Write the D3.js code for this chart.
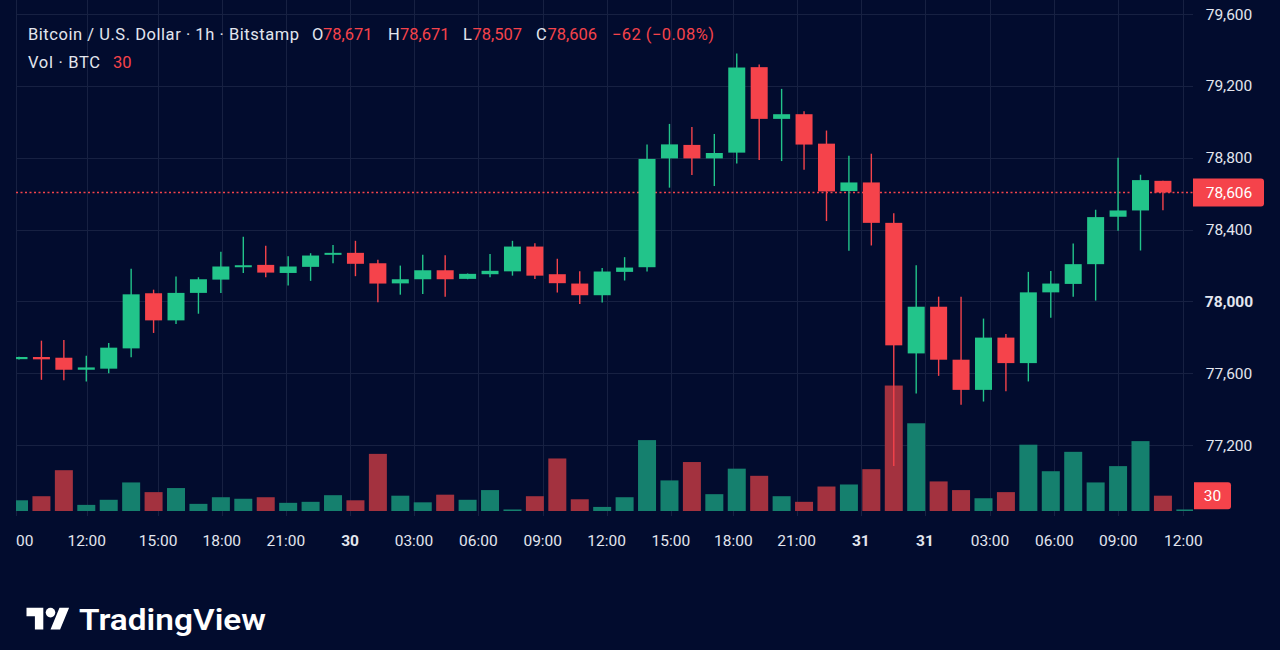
<!DOCTYPE html>
<html>
<head>
<meta charset="utf-8">
<script src="https://cdn.jsdelivr.net/npm/d3@7/dist/d3.min.js"></script>
<style>
  html, body { margin: 0; padding: 0; background: #020c2e; }
  svg { display: block; }
  text { font-family: Roboto, "Noto Sans", sans-serif; }
</style>
</head>
<body>
<svg id="chart" width="1280" height="650"></svg>
<script>
// ---------- DATA ----------
const opens  = [77678,77690,77686,77619,77625,77738,78045,77894,78047,78121,78190,78203,78158,78192,78259,78270,78212,78100,78123,78173,78125,78151,78167,78305,78151,78099,78034,78164,78190,78796,78871,78796,78828,79304,79016,79042,78878,78614,78662,78437,77710,77970,77675,77507,77798,77656,78050,78097,78207,78471,78506,78671];
const highs  = [77692,77781,77785,77697,77768,78181,78065,78138,78134,78276,78359,78309,78251,78268,78313,78337,78231,78199,78259,78257,78155,78264,78337,78324,78237,78168,78186,78246,78874,78988,78971,78932,79380,79319,79183,79059,78951,78811,78822,78491,78201,78026,78026,77904,77818,78164,78169,78322,78510,78800,78705,78671];
const lows   = [77676,77563,77560,77554,77599,77688,77824,77874,77931,78047,78158,78134,78088,78114,78212,78140,77995,78037,78041,78026,78123,78134,78143,78125,78049,77985,77993,78116,78166,78633,78703,78642,78767,78787,78781,78733,78447,78281,78311,77083,77487,77585,77424,77442,77500,77554,77909,78026,78004,78393,78283,78507];
const closes = [77690,77677,77619,77632,77742,78039,77894,78047,78123,78194,78201,78160,78194,78255,78270,78209,78099,78123,78173,78123,78153,78170,78305,78143,78101,78034,78166,78188,78793,78874,78796,78826,79302,79016,79042,78873,78612,78662,78437,77755,77970,77675,77507,77798,77656,78050,78099,78207,78469,78506,78675,78606];
const volumes = [21,29,80,12,22,56,37,45,14,27,24,27,16,18,31,21,112,30,17,32,22,41,3,29,103,23,8,27,139,60,96,33,83,69,29,18,48,52,82,246,172,58,41,25,37,130,78,116,56,88,137,30,3];

const priceTicks = [77200,77600,78000,78400,78800,79200,79600];
const boldPriceTicks = [78000];
// tick positions in candle-hour units (relative to first candle)
const timeTickPos = [-0.13,3.02,6.20,9.04,11.90,14.76,17.61,20.48,23.35,26.20,29.06,31.85,34.67,37.53,40.39,43.29,46.16,49.01,51.91];
const timeTickLabels = ["00","12:00","15:00","18:00","21:00","30","03:00","06:00","09:00","12:00","15:00","18:00","21:00","31","31","03:00","06:00","09:00","12:00"];
const boldTimeLabels = ["30","31"];

const lastPrice = 78606;
const lastVolume = 30;
const legendTitle = "Bitcoin / U.S. Dollar · 1h · Bitstamp";
const legendOHLC = [["O","78,671"],["H","78,671"],["L","78,507"],["C","78,606"]];
const legendChange = "−62 (−0.08%)";
const volLegend = "Vol · BTC";

// ---------- STYLE ----------
const BG = "#020c2e", GRID = "#172142", UP = "#22c48a", DOWN = "#f5434b";
const VUP = "#15806e", VDOWN = "#a3323f", TXT = "#e3e6ee";

const svg = d3.select("#chart");
const plot = {left: 16, right: 1193, top: 0, bottom: 516};

svg.append("rect").attr("width", 1280).attr("height", 650).attr("fill", BG);

const n = opens.length;
const x = d3.scaleLinear().domain([0, 52]).range([19, 19 + 22.43 * 52]);
const y = d3.scaleLinear().domain([77200, 79600]).range([445, 14]);
const v = d3.scaleLinear().domain([0, 250]).range([511, 383.5]);

svg.append("clipPath").attr("id", "plotclip")
  .append("rect").attr("x", plot.left).attr("y", plot.top)
  .attr("width", plot.right - plot.left).attr("height", plot.bottom - plot.top);

const g = svg.append("g").attr("clip-path", "url(#plotclip)");

// grid
g.selectAll(".hgrid").data(priceTicks).enter().append("line")
  .attr("x1", plot.left).attr("x2", plot.right)
  .attr("y1", d => Math.round(y(d)) + 0.5).attr("y2", d => Math.round(y(d)) + 0.5)
  .attr("stroke", GRID).attr("stroke-width", 1);
g.selectAll(".vgrid").data(timeTickPos).enter().append("line")
  .attr("x1", d => Math.round(x(d)) + 0.5).attr("x2", d => Math.round(x(d)) + 0.5)
  .attr("y1", plot.top).attr("y2", plot.bottom)
  .attr("stroke", GRID).attr("stroke-width", 1);

// volume
const isUp = i => i >= n ? true : closes[i] >= opens[i];
const bw = 18;
g.selectAll(".vol").data(volumes).enter().append("rect")
  .attr("x", (d, i) => x(i) - bw / 2)
  .attr("y", d => v(d))
  .attr("width", bw)
  .attr("height", d => Math.max(1, v(0) - v(d)))
  .attr("fill", (d, i) => isUp(i) ? VUP : VDOWN);

// last price dotted line
g.append("line")
  .attr("x1", plot.left).attr("x2", plot.right)
  .attr("y1", y(lastPrice)).attr("y2", y(lastPrice))
  .attr("stroke", DOWN).attr("stroke-width", 1.5).attr("stroke-dasharray", "2,2.5");

// candles
const idx = d3.range(n);
const cw = 17;
g.selectAll(".wick").data(idx).enter().append("line")
  .attr("x1", i => x(i)).attr("x2", i => x(i))
  .attr("y1", i => y(highs[i])).attr("y2", i => y(lows[i]))
  .attr("stroke", i => isUp(i) ? UP : DOWN).attr("stroke-width", 1.4);
g.selectAll(".body").data(idx).enter().append("rect")
  .attr("x", i => x(i) - cw / 2)
  .attr("y", i => y(Math.max(opens[i], closes[i])))
  .attr("width", cw)
  .attr("height", i => Math.max(2, Math.abs(y(opens[i]) - y(closes[i]))))
  .attr("fill", i => isUp(i) ? UP : DOWN);

// price axis labels
svg.selectAll(".ptick").data(priceTicks).enter().append("text")
  .attr("x", 1229).attr("y", d => y(d)).attr("dy", "0.36em")
  .attr("text-anchor", "middle").attr("fill", TXT)
  .attr("font-size", 15.5)
  .attr("font-weight", d => boldPriceTicks.includes(d) ? 700 : 400)
  .text(d => d3.format(",")(d));

// last price label
const lpY = y(lastPrice);
svg.append("path")
  .attr("d", `M1193,${lpY - 14} H1261 Q1264,${lpY - 14} 1264,${lpY - 11} V${lpY + 11} Q1264,${lpY + 14} 1261,${lpY + 14} H1193 Z`)
  .attr("fill", DOWN);
svg.append("text").attr("x", 1229).attr("y", lpY).attr("dy", "0.36em")
  .attr("text-anchor", "middle").attr("fill", "#ffffff").attr("font-size", 15.5)
  .text(d3.format(",")(lastPrice));

// last volume label
const lvY = v(lastVolume);
svg.append("path")
  .attr("d", `M1194,${lvY - 13.5} H1228 Q1231,${lvY - 13.5} 1231,${lvY - 10.5} V${lvY + 10.5} Q1231,${lvY + 13.5} 1228,${lvY + 13.5} H1194 Z`)
  .attr("fill", DOWN);
svg.append("text").attr("x", 1212.5).attr("y", lvY).attr("dy", "0.36em")
  .attr("text-anchor", "middle").attr("fill", "#ffffff").attr("font-size", 15.5)
  .text(lastVolume);

// time axis labels
svg.selectAll(".ttick").data(timeTickPos).enter().append("text")
  .attr("x", (d, i) => i === 0 ? plot.left : x(d))
  .attr("y", 545.5)
  .attr("text-anchor", (d, i) => i === 0 ? "start" : "middle")
  .attr("fill", TXT).attr("font-size", 15.5)
  .attr("font-weight", (d, i) => boldTimeLabels.includes(timeTickLabels[i]) ? 700 : 400)
  .text((d, i) => timeTickLabels[i]);

// legend
const leg = svg.append("g").attr("font-size", 16.5);
leg.append("text").attr("x", 28).attr("y", 40).attr("fill", TXT)
  .attr("textLength", 271).attr("lengthAdjust", "spacing").text(legendTitle);
const ohlcX = [[312, 323], [388, 400], [463, 472.5], [536, 547.5]];
legendOHLC.forEach((p, i) => {
  leg.append("text").attr("x", ohlcX[i][0]).attr("y", 40).attr("fill", TXT).text(p[0]);
  leg.append("text").attr("x", ohlcX[i][1]).attr("y", 40).attr("fill", DOWN).text(p[1]);
});
leg.append("text").attr("x", 612).attr("y", 40).attr("fill", DOWN)
  .attr("textLength", 102).attr("lengthAdjust", "spacing").text(legendChange);
leg.append("text").attr("x", 28).attr("y", 67.5).attr("fill", TXT)
  .attr("textLength", 72).attr("lengthAdjust", "spacing").text(volLegend);
leg.append("text").attr("x", 113).attr("y", 67.5).attr("fill", DOWN).text(lastVolume);

// TradingView logo
const logo = svg.append("g").attr("fill", "#ffffff");
logo.append("g").attr("transform", "translate(26.5,603) scale(1.2)")
  .call(s => {
    s.append("path").attr("d", "M14 22H7V11H0V4h14v18zM28 22h-8l7.5-18h8L28 22z");
    s.append("circle").attr("cx", 20).attr("cy", 8).attr("r", 4);
  });
logo.append("text").attr("x", 79).attr("y", 630).attr("font-size", 30)
  .attr("font-weight", 600).attr("textLength", 187).attr("lengthAdjust", "spacingAndGlyphs")
  .attr("font-family", "Inter, Roboto, sans-serif")
  .text("TradingView");
</script>
</body>
</html>
